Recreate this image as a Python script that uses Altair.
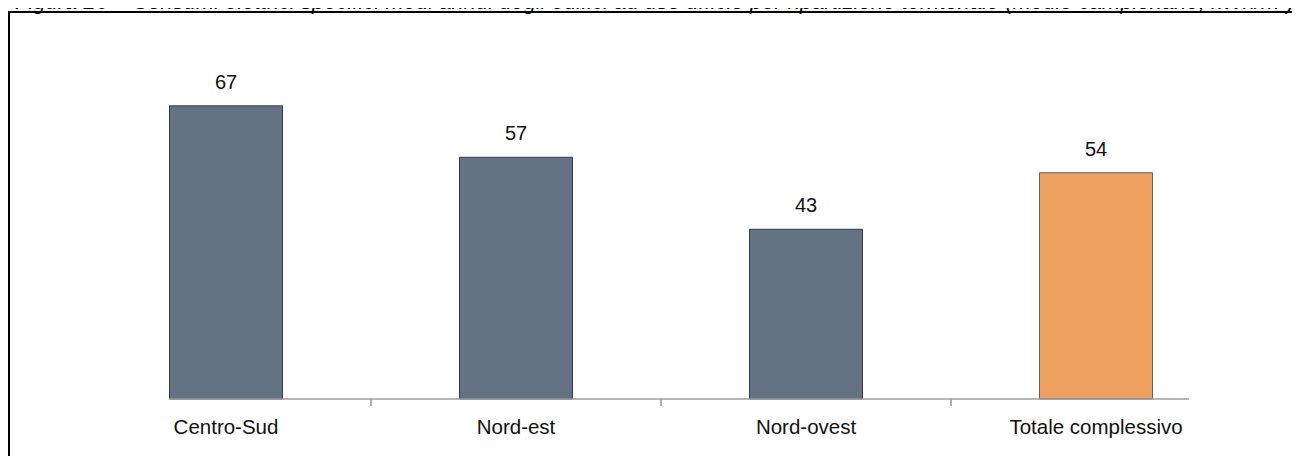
import altair as alt
import pandas as pd

categories = ["Centro-Sud", "Nord-est", "Nord-ovest", "Totale complessivo"]
values = [67, 57, 43, 54]
groups = ["area", "area", "area", "totale"]
title_text = ("Figura 26 – Consumi elettrici specifici medi annui degli edifici ad uso ufficio "
              "per ripartizione territoriale (medie campionarie, kWh/m²)")

df = pd.DataFrame({"cat": categories, "val": values, "grp": groups})
one = pd.DataFrame({"t": [title_text]})

FONT = "Liberation Sans"

xscale = alt.Scale(domain=categories, paddingInner=0, paddingOuter=0)
yscale = alt.Scale(domain=[10, 80], clamp=True, zero=False, nice=False)

AXIS = alt.Axis(domain=False, ticks=False, labelAngle=0, labelFont=FONT,
                labelFontSize=20.5, labelColor="#111111", labelPadding=34,
                labelBaseline="alphabetic")
X = alt.X("cat:N", scale=xscale, sort=categories, title=None, axis=AXIS)
Y = alt.Y("val:Q", scale=yscale, axis=None)

base = alt.Chart(df)

bars = base.mark_bar(size=113, strokeWidth=1).encode(
    x=X,
    y=Y,
    y2=alt.datum(10),
    fill=alt.Color("grp:N", scale=alt.Scale(domain=["area", "totale"], range=["#647283", "#EDA060"]), legend=None),
    stroke=alt.Stroke("grp:N", scale=alt.Scale(domain=["area", "totale"], range=["#2b3a52", "#5c6370"]), legend=None),
)

labels = base.mark_text(font=FONT, fontSize=20, color="#111111", baseline="alphabetic", dy=-17).encode(
    x=X,
    y=Y,
    text=alt.Text("val:Q"),
)

axis_line = alt.Chart(one).mark_rule(color="#9c9c9c", strokeWidth=1.6, xOffset=-57, x2Offset=93).encode(
    x=alt.datum("Centro-Sud", scale=xscale),
    x2=alt.datum("Totale complessivo"),
    y=alt.datum(10, scale=yscale),
)

ticks = base.transform_filter("datum.cat != 'Centro-Sud'").mark_rule(
    color="#9c9c9c", strokeWidth=1.6, y2Offset=7
).encode(
    x=alt.X("cat:N", scale=xscale, sort=categories, bandPosition=0, title=None, axis=AXIS),
    y=alt.datum(10, scale=yscale),
    y2=alt.datum(10),
)

frame_top = alt.Chart(one).mark_rule(color="#000000", strokeWidth=2).encode(
    x=alt.value(-73), x2=alt.value(1211), y=alt.value(-27)
)
frame_left = alt.Chart(one).mark_rule(color="#000000", strokeWidth=2).encode(
    x=alt.value(-72), y=alt.value(-28), y2=alt.value(417)
)
title = alt.Chart(one).mark_text(font=FONT, fontSize=22, fontStyle="italic", align="left",
                                 baseline="alphabetic", color="#000000").encode(
    x=alt.value(-66), y=alt.value(-30), text="t:N"
)

chart = alt.layer(frame_top, frame_left, title, bars, labels, axis_line, ticks).properties(
    width=1160, height=360,
    padding={"left": 73, "top": 31, "right": 51, "bottom": 57},
    autosize="none",
    background="#ffffff",
).configure_view(strokeWidth=0, stroke="transparent")

chart.save("out.html", embed_options={"renderer": "svg", "actions": False})
